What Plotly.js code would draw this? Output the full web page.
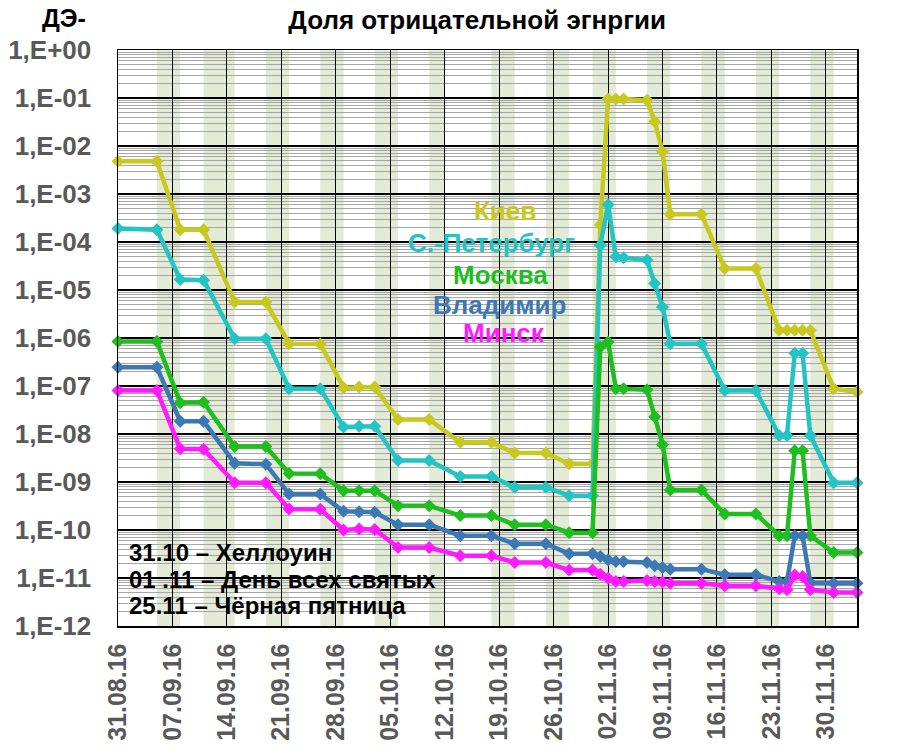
<!DOCTYPE html>
<html>
<head>
<meta charset="utf-8">
<script src="https://cdn.plot.ly/plotly-3.0.1.min.js"></script>
<style>
  html, body { margin: 0; padding: 0; background: #fff; }
  #chart { width: 907px; height: 754px; }
</style>
</head>
<body>
<div id="chart"></div>
<script>
// measurement dates
const dates = [
    '2016-08-31', '2016-09-05', '2016-09-08', '2016-09-11', '2016-09-15', '2016-09-19',
    '2016-09-22', '2016-09-26', '2016-09-29', '2016-10-01', '2016-10-03', '2016-10-06',
    '2016-10-10', '2016-10-14', '2016-10-18', '2016-10-21', '2016-10-25', '2016-10-28',
    '2016-10-31', '2016-11-01', '2016-11-02', '2016-11-03', '2016-11-04', '2016-11-07',
    '2016-11-08', '2016-11-09', '2016-11-10', '2016-11-14', '2016-11-17', '2016-11-21',
    '2016-11-24', '2016-11-25', '2016-11-26', '2016-11-27', '2016-11-28', '2016-12-01',
    '2016-12-04',
];

const kiev = [
    4.8e-3, 4.8e-3, 1.8e-4, 1.8e-4, 5.6e-6, 5.6e-6,
    7.6e-7, 7.5e-7, 9.2e-8, 9.5e-8, 9.5e-8, 2.0e-8,
    2.0e-8, 6.7e-9, 6.7e-9, 4.0e-9, 4.0e-9, 2.4e-9,
    2.4e-9, 2.3e-4, 9.5e-2, 9.5e-2, 9.5e-2, 9.0e-2,
    3.2e-2, 7.6e-3, 3.8e-4, 3.8e-4, 2.8e-5, 2.8e-5,
    1.45e-6, 1.45e-6, 1.45e-6, 1.45e-6, 1.45e-6, 8.8e-8,
    7.5e-8,
];

const spb = [
    1.9e-4, 1.8e-4, 1.65e-5, 1.6e-5, 9.7e-7, 9.7e-7,
    8.8e-8, 8.8e-8, 1.4e-8, 1.45e-8, 1.45e-8, 2.8e-9,
    2.8e-9, 1.3e-9, 1.3e-9, 7.8e-10, 7.8e-10, 5.2e-10,
    5.2e-10, 8.6e-5, 6.0e-4, 4.9e-5, 4.7e-5, 4.2e-5,
    1.37e-5, 4.4e-6, 7.6e-7, 7.6e-7, 8.1e-8, 8.1e-8,
    9.3e-9, 9.3e-9, 4.8e-7, 4.8e-7, 9.3e-9, 9.6e-10,
    9.6e-10,
];

const moscow = [
    8.5e-7, 8.5e-7, 4.5e-8, 4.6e-8, 5.5e-9, 5.5e-9,
    1.5e-9, 1.48e-9, 6.6e-10, 6.6e-10, 6.6e-10, 3.2e-10,
    3.2e-10, 2.0e-10, 2.0e-10, 1.29e-10, 1.29e-10, 8.8e-11,
    8.8e-11, 6.5e-7, 8.3e-7, 8.8e-8, 8.8e-8, 8.4e-8,
    2.3e-8, 6.0e-9, 6.8e-10, 6.8e-10, 2.16e-10, 2.16e-10,
    7.6e-11, 7.6e-11, 4.5e-9, 4.5e-9, 7.6e-11, 3.4e-11,
    3.4e-11,
];

const vladimir = [
    2.45e-7, 2.45e-7, 1.85e-8, 1.85e-8, 2.45e-9, 2.35e-9,
    5.6e-10, 5.6e-10, 2.45e-10, 2.4e-10, 2.35e-10, 1.29e-10,
    1.29e-10, 7.6e-11, 7.6e-11, 5.2e-11, 5.2e-11, 3.2e-11,
    3.2e-11, 2.8e-11, 2.4e-11, 2.2e-11, 2.2e-11, 2.1e-11,
    1.8e-11, 1.65e-11, 1.53e-11, 1.53e-11, 1.17e-11, 1.17e-11,
    8.5e-12, 8.5e-12, 7.6e-11, 7.6e-11, 8.0e-12, 7.8e-12,
    7.8e-12,
];

const minsk = [
    8.1e-8, 8.1e-8, 4.9e-9, 4.8e-9, 9.6e-10, 9.6e-10,
    2.75e-10, 2.7e-10, 1.0e-10, 1.05e-10, 1.02e-10, 4.3e-11,
    4.3e-11, 2.9e-11, 2.9e-11, 2.1e-11, 2.1e-11, 1.46e-11,
    1.46e-11, 1.2e-11, 9.9e-12, 8.5e-12, 8.5e-12, 8.9e-12,
    8.5e-12, 8.3e-12, 7.8e-12, 7.8e-12, 6.9e-12, 6.9e-12,
    6.0e-12, 5.7e-12, 1.15e-11, 1.08e-11, 5.7e-12, 5.0e-12,
    5.0e-12,
];

const seriesNames = ['Киев', 'С.-Петербург', 'Москва', 'Владимир', 'Минск'];
const seriesColors = ['#c8c81e', '#22c4c4', '#1ebe1e', '#3c78b4', '#ff1aff'];

// shaded periods
const bandStarts = [
    '2016-09-05', '2016-09-11', '2016-09-19', '2016-09-26', '2016-10-03', '2016-10-10',
    '2016-10-18', '2016-10-25', '2016-10-31', '2016-11-07', '2016-11-14', '2016-11-21',
    '2016-11-28',
];
const bandEnds = [
    '2016-09-08', '2016-09-15', '2016-09-22', '2016-09-29', '2016-10-06', '2016-10-12',
    '2016-10-21', '2016-10-28', '2016-11-03', '2016-11-10', '2016-11-17', '2016-11-24',
    '2016-12-01',
];

const yTickVals = [1e0, 1e-1, 1e-2, 1e-3, 1e-4, 1e-5, 1e-6, 1e-7, 1e-8, 1e-9, 1e-10, 1e-11, 1e-12];
const yTickText = ['1,E+00', '1,E-01', '1,E-02', '1,E-03', '1,E-04', '1,E-05', '1,E-06',
                   '1,E-07', '1,E-08', '1,E-09', '1,E-10', '1,E-11', '1,E-12'];

const holidays = ['31.10 – Хеллоуин', '01 .11 – День всех святых', '25.11 – Чёрная пятница'];

const FONT = 'Liberation Sans, Arial, sans-serif';

const allValues = [kiev, spb, moscow, vladimir, minsk];

const data = allValues.map((values, i) => ({
    x: dates,
    y: values,
    type: 'scatter',
    mode: 'lines+markers',
    name: seriesNames[i],
    line: { color: seriesColors[i], width: 4.5 },
    marker: { symbol: 'diamond', size: 10, color: seriesColors[i] },
    cliponaxis: false,
}));

const shapes = bandStarts.map((start, i) => ({
    type: 'rect',
    xref: 'x',
    yref: 'paper',
    x0: start,
    x1: bandEnds[i],
    y0: 0,
    y1: 1,
    fillcolor: '#e3ebd6',
    line: { width: 0 },
    layer: 'below',
}));

// legend texts next to the curves
const legendY = [0.7205, 0.665, 0.609, 0.557, 0.509];
const legendX = [0.524, 0.505, 0.518, 0.516, 0.522];

const annotations = seriesNames.map((name, i) => ({
    text: name,
    xref: 'paper',
    yref: 'paper',
    x: legendX[i],
    y: legendY[i],
    xanchor: 'center',
    yanchor: 'middle',
    showarrow: false,
    font: { family: FONT, size: 26, color: seriesColors[i], weight: 'bold' },
}));

const holidayY = [0.127, 0.080, 0.035];
holidays.forEach((text, i) => {
    annotations.push({
        text: text,
        xref: 'paper',
        yref: 'paper',
        x: 0.012,
        y: holidayY[i],
        xanchor: 'left',
        yanchor: 'middle',
        showarrow: false,
        font: { family: FONT, size: 24, color: '#000', weight: 'bold' },
    });
});

annotations.push({
    text: 'ДЭ-',
    xref: 'paper',
    yref: 'paper',
    x: -0.073,
    y: 1.056,
    xanchor: 'center',
    yanchor: 'middle',
    showarrow: false,
    font: { family: FONT, size: 25, color: '#000', weight: 'bold' },
});

const layout = {
    width: 907,
    height: 754,
    paper_bgcolor: '#ffffff',
    plot_bgcolor: 'rgba(0,0,0,0)',
    margin: { t: 50, r: 50, b: 128, l: 118 },
    showlegend: false,
    title: {
        text: 'Доля отрицательной эгнргии',
        xref: 'paper',
        x: 0.486,
        xanchor: 'center',
        yref: 'container',
        y: 0.973,
        yanchor: 'middle',
        font: { family: FONT, size: 26, color: '#000', weight: 'bold' },
    },
    xaxis: {
        type: 'date',
        range: ['2016-08-31', '2016-12-04'],
        tick0: '2016-08-31',
        dtick: 7 * 24 * 60 * 60 * 1000,
        tickformat: '%d.%m.%y',
        tickangle: -90,
        tickfont: { family: FONT, size: 25, color: '#595959', weight: 'bold' },
        ticks: '',
        ticklabelstandoff: 6,
        showgrid: true,
        gridcolor: '#000000',
        gridwidth: 1,
        showline: true,
        linecolor: '#000000',
        linewidth: 1.5,
        mirror: true,
        zeroline: false,
    },
    yaxis: {
        type: 'log',
        range: [-12, 0],
        tickmode: 'array',
        tickvals: yTickVals,
        ticktext: yTickText,
        tickfont: { family: FONT, size: 26, color: '#595959', weight: 'bold' },
        ticks: '',
        ticklabelstandoff: 20,
        showgrid: true,
        gridcolor: '#000000',
        gridwidth: 1.2,
        minor: {
            dtick: 'D1',
            showgrid: true,
            gridcolor: '#a6a6a6',
            gridwidth: 1,
        },
        showline: true,
        linecolor: '#000000',
        linewidth: 1.5,
        mirror: true,
        zeroline: false,
    },
    shapes: shapes,
    annotations: annotations,
};

const config = {
    responsive: false,
    displayModeBar: false,
    staticPlot: true,
};

Plotly.newPlot('chart', data, layout, config);
</script>
</body>
</html>
